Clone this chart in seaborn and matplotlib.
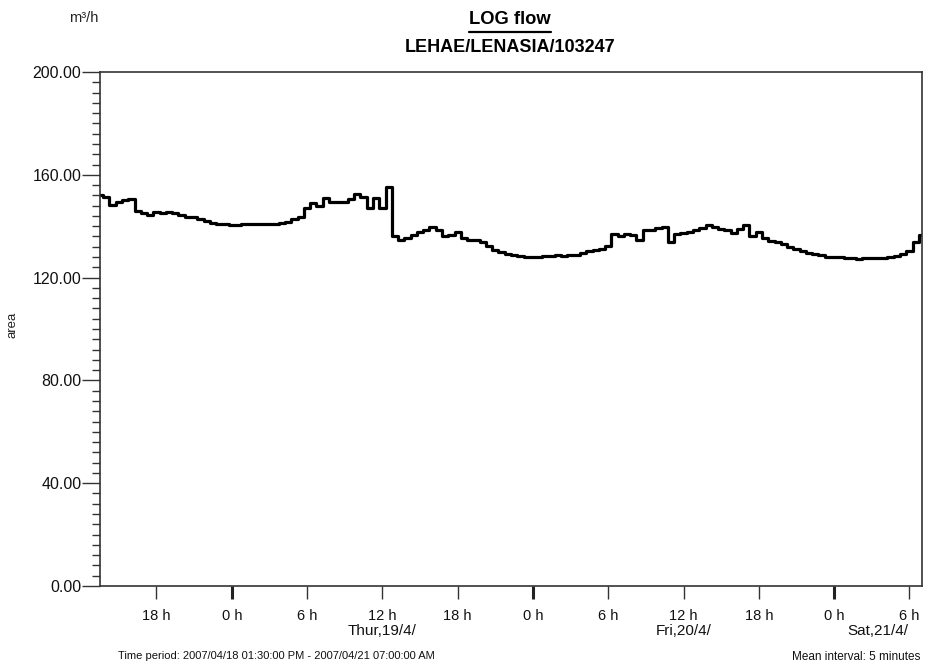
import numpy as np
import pandas as pd
import matplotlib
matplotlib.use("Agg")
import matplotlib.pyplot as plt
import matplotlib.dates as mdates
import seaborn as sns
from matplotlib.ticker import MultipleLocator, FixedLocator, FuncFormatter
from matplotlib.transforms import blended_transform_factory
from matplotlib.lines import Line2D

# ---------------- data ----------------
start = "2007-04-18 13:30"
end = "2007-04-21 07:00"
step = "30min"

flow = [
    152.0, 151.4, 148.2, 149.6, 150.1, 150.5, 146.0, 145.2, 144.4, 145.5,
    145.0, 145.6, 145.3, 144.2, 143.7, 143.4, 142.8, 141.9, 141.3, 140.9,
    140.7, 140.6, 140.5, 141.0, 141.0, 141.0, 141.0, 141.0, 141.0, 141.1,
    141.8, 142.9, 143.5, 146.9, 149.2, 148.0, 150.8, 149.5, 149.3, 149.6,
    150.6, 152.7, 151.5, 147.0, 150.8, 146.9, 155.3, 136.0, 134.6, 135.5,
    136.4, 137.8, 138.6, 139.7, 138.5, 136.2, 136.6, 137.7, 135.3, 134.8,
    134.5, 133.9, 132.3, 130.9, 130.0, 129.2, 128.6, 128.3, 128.2, 128.0,
    128.2, 128.3, 128.4, 128.6, 128.4, 128.6, 128.7, 129.4, 130.3, 130.6,
    131.2, 132.4, 137.0, 136.0, 136.8, 136.6, 134.8, 138.4, 138.6, 139.3,
    139.5, 134.0, 137.1, 137.3, 137.6, 138.5, 139.3, 140.4, 139.6, 139.0,
    138.4, 137.3, 139.0, 140.5, 136.0, 137.7, 135.5, 134.3, 133.9, 132.9,
    131.8, 131.0, 130.2, 129.6, 129.0, 128.6, 128.2, 128.0, 127.9, 127.7,
    127.6, 127.4, 127.6, 127.5, 127.6, 127.8, 127.9, 128.3, 129.2, 130.4,
    134.0, 136.5,
]

y_ticks = [0, 40, 80, 120, 160, 200]
day_dates = ["2007-04-19", "2007-04-20", "2007-04-21"]
day_labels = ["Thur,19/4/", "Fri,20/4/", "Sat,21/4/"]

title = "LOG flow"
subtitle = "LEHAE/LENASIA/103247"
unit = "m³/h"
ylabel = "area"
period_text = "Time period: 2007/04/18 01:30:00 PM - 2007/04/21 07:00:00 AM"
interval_text = "Mean interval: 5 minutes"

# ---------------- figure ----------------
times = pd.date_range(start, periods=len(flow), freq=step)
df = pd.DataFrame({"time": times, "flow": flow})

sns.set_theme(style="white")
plt.rcParams["font.family"] = ["Liberation Sans", "DejaVu Sans"]

W, H = 933, 668
fig = plt.figure(figsize=(W / 100, H / 100), dpi=100)
fig.patch.set_facecolor("white")
ax = fig.add_axes([100 / W, 82 / H, 822 / W, 514 / H])
ax.set_facecolor("white")

sns.lineplot(data=df, x="time", y="flow", color="black", linewidth=2.3,
             drawstyle="steps-mid", ax=ax)

t0, t1 = pd.Timestamp(start), pd.Timestamp(end)
ax.set_xlim(t0, t1)
ax.set_ylim(y_ticks[0], y_ticks[-1])
ax.set_xlabel("")
ax.set_ylabel("")

for s in ax.spines.values():
    s.set_visible(True)
    s.set_color("#333333")
    s.set_linewidth(1.2)

# y axis
ax.yaxis.set_major_locator(FixedLocator(y_ticks))
ax.yaxis.set_minor_locator(MultipleLocator(4))
ax.yaxis.set_major_formatter(FuncFormatter(lambda v, p: f"{v:.2f}"))
ax.tick_params(axis="y", which="major", direction="out", length=13, width=1.0,
               color="#333333", pad=0.5, labelsize=11.5, labelcolor="#111111", left=True)
ax.tick_params(axis="y", which="minor", direction="out", length=5.8, width=1.0,
               color="#333333", left=True)

# x axis
ax.xaxis.set_major_locator(mdates.HourLocator(byhour=[6, 12, 18]))
ax.xaxis.set_minor_locator(mdates.HourLocator(byhour=[0]))
hfmt = FuncFormatter(lambda v, p: f"{mdates.num2date(v).hour} h")
ax.xaxis.set_major_formatter(hfmt)
ax.xaxis.set_minor_formatter(hfmt)
ax.tick_params(axis="x", which="major", direction="out", length=9.5, width=1.0,
               color="#333333", pad=7, labelsize=10.5, labelcolor="#111111", bottom=True)
ax.tick_params(axis="x", which="minor", direction="out", length=9.5, width=2.2,
               color="#222222", pad=7, labelsize=10.5, labelcolor="#111111", bottom=True)
ax.grid(False)

# day labels at the middle of each visible day part
trans = blended_transform_factory(ax.transData, fig.transFigure)
for d, lab in zip(day_dates, day_labels):
    d0 = max(pd.Timestamp(d), t0)
    d1 = min(pd.Timestamp(d) + pd.Timedelta(days=1), t1)
    mid = d0 + (d1 - d0) / 2
    fig.text(mdates.date2num(mid), 1 - 631 / H, lab, transform=trans,
             ha="center", va="center", fontsize=11, color="#111111")

# texts
fig.text(84 / W, 1 - 18 / H, unit, ha="center", va="center", fontsize=10.5, color="#222222")
fig.text(13 / W, 1 - 325 / H, ylabel, ha="center", va="center", rotation=90,
         fontsize=9.5, color="#222222")
tt = fig.text(510 / W, 1 - 20 / H, title, ha="center", va="center", fontsize=13.2,
              fontweight="bold", color="black")
fig.text(510 / W, 1 - 47 / H, subtitle, ha="center", va="center", fontsize=13,
         fontweight="bold", color="black")
fig.text(118 / W, 1 - 656 / H, period_text, ha="left", va="center", fontsize=8.0,
         color="#111111")
fig.text(920 / W, 1 - 657 / H, interval_text, ha="right", va="center", fontsize=8.5,
         color="#111111")

# underline for the title
fig.canvas.draw()
bb = tt.get_window_extent(renderer=fig.canvas.get_renderer())
uy = 1 - 31.5 / H
fig.add_artist(Line2D([bb.x0 / W, bb.x1 / W], [uy, uy], transform=fig.transFigure,
                      color="black", linewidth=1.6))

fig.savefig("out.png", dpi=100, facecolor="white")
